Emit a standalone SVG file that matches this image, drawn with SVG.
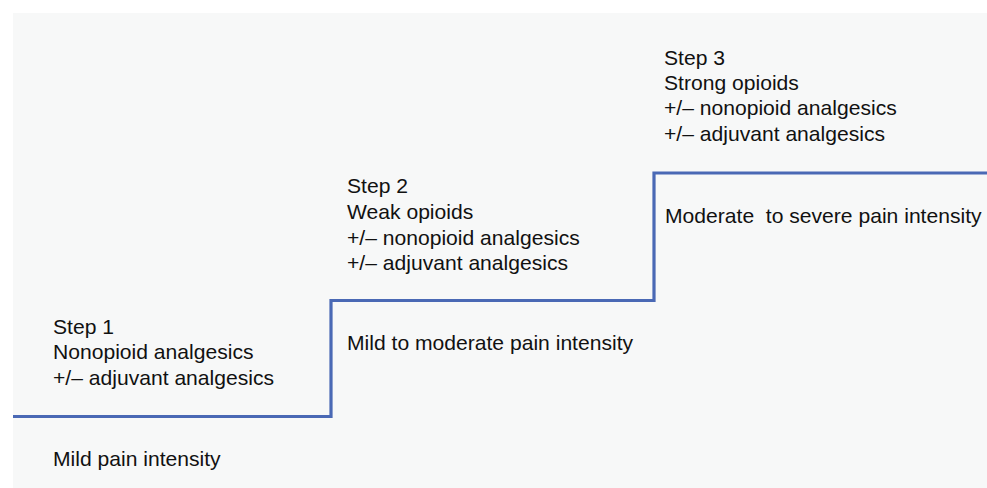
<svg xmlns="http://www.w3.org/2000/svg" width="987" height="488" viewBox="0 0 987 488">
<style>
text{font-family:"Liberation Sans",Arial,Helvetica,sans-serif;font-size:21.1px;fill:#111}
.stair{fill:none;stroke:#4a69b5;stroke-width:3.2}
</style>
<rect x="0" y="0" width="987" height="488" fill="#ffffff"/>
<rect x="13" y="13" width="974" height="475" fill="#f7f8f8"/>
<g id="connectors">
<path class="stair" d="M13 416.5 H331 V300.5 H654 V173 H987"/>
</g>
<g id="step1">
<text x="53" y="334">Step 1</text>
<text x="53" y="359">Nonopioid analgesics</text>
<text x="53" y="385">+/– adjuvant analgesics</text>
</g>
<g id="level1">
<text x="53" y="466">Mild pain intensity</text>
</g>
<g id="step2">
<text x="347" y="193">Step 2</text>
<text x="347" y="219">Weak opioids</text>
<text x="347" y="245">+/– nonopioid analgesics</text>
<text x="347" y="270">+/– adjuvant analgesics</text>
</g>
<g id="level2">
<text x="347" y="350">Mild to moderate pain intensity</text>
</g>
<g id="step3">
<text x="664" y="65">Step 3</text>
<text x="664" y="90">Strong opioids</text>
<text x="664" y="115">+/– nonopioid analgesics</text>
<text x="664" y="141">+/– adjuvant analgesics</text>
</g>
<g id="level3">
<text x="665" y="223" xml:space="preserve">Moderate  to severe pain intensity</text>
</g>
</svg>
